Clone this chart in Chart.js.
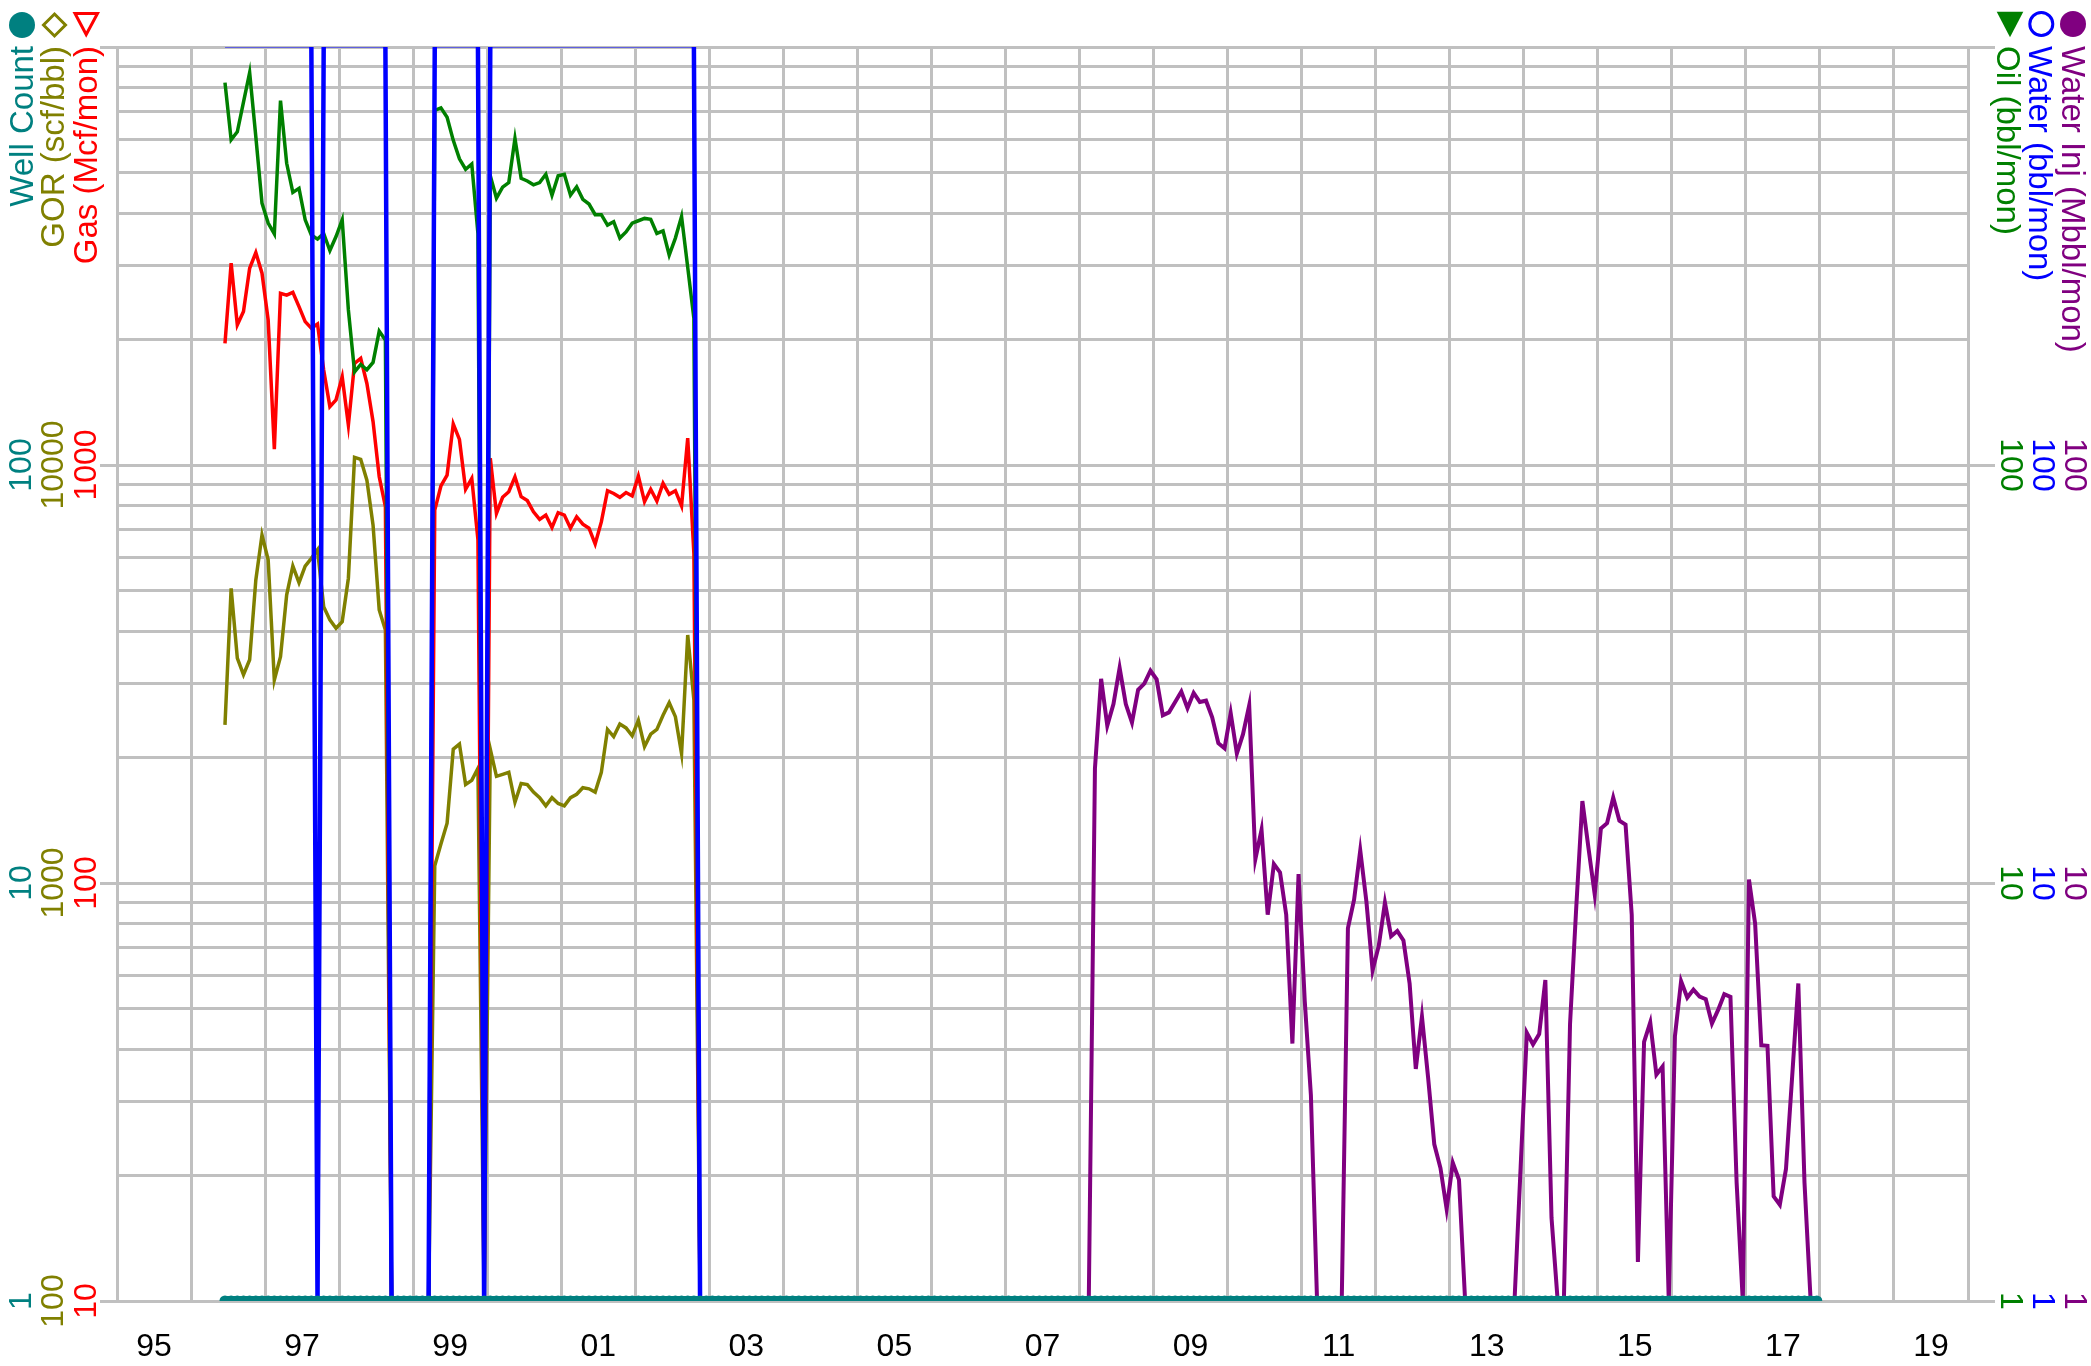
<!DOCTYPE html>
<html>
<head>
<meta charset="utf-8">
<script src="https://cdn.jsdelivr.net/npm/chart.js@4.4.1/dist/chart.umd.min.js"></script>
<style>
  html, body { margin: 0; padding: 0; background: #fff; }
  #wrap { width: 2091px; height: 1366px; position: relative; }
</style>
</head>
<body>
<div id="wrap"><canvas id="chart"></canvas></div>
<script>
// first month of each monthly series (points sit mid-month)
const prodStart = [1996, 6];
const injStart = [2008, 2];

// Well count, Jun 1996 .. Dec 2017
const wellCount = [
  1, 1, 1, 1, 1, 1, 1,
  1, 1, 1, 1, 1, 1, 1, 1, 1, 1, 1, 1,
  1, 1, 1, 1, 1, 1, 1, 1, 1, 1, 1, 1,
  1, 1, 1, 1, 1, 1, 1, 1, 1, 1, 1, 1,
  1, 1, 1, 1, 1, 1, 1, 1, 1, 1, 1, 1,
  1, 1, 1, 1, 1, 1, 1, 1, 1, 1, 1, 1,
  1, 1, 1, 1, 1, 1, 1, 1, 1, 1, 1, 1,
  1, 1, 1, 1, 1, 1, 1, 1, 1, 1, 1, 1,
  1, 1, 1, 1, 1, 1, 1, 1, 1, 1, 1, 1,
  1, 1, 1, 1, 1, 1, 1, 1, 1, 1, 1, 1,
  1, 1, 1, 1, 1, 1, 1, 1, 1, 1, 1, 1,
  1, 1, 1, 1, 1, 1, 1, 1, 1, 1, 1, 1,
  1, 1, 1, 1, 1, 1, 1, 1, 1, 1, 1, 1,
  1, 1, 1, 1, 1, 1, 1, 1, 1, 1, 1, 1,
  1, 1, 1, 1, 1, 1, 1, 1, 1, 1, 1, 1,
  1, 1, 1, 1, 1, 1, 1, 1, 1, 1, 1, 1,
  1, 1, 1, 1, 1, 1, 1, 1, 1, 1, 1, 1,
  1, 1, 1, 1, 1, 1, 1, 1, 1, 1, 1, 1,
  1, 1, 1, 1, 1, 1, 1, 1, 1, 1, 1, 1,
  1, 1, 1, 1, 1, 1, 1, 1, 1, 1, 1, 1,
  1, 1, 1, 1, 1, 1, 1, 1, 1, 1, 1, 1,
  1, 1, 1, 1, 1, 1, 1, 1, 1, 1, 1, 1
];

// Oil (bbl/mon), Jun 1996 .. Nov 2002
const oilBbl = [
  822, 600, 627, 738, 868, 610, 423,
  379, 357, 744, 527, 449, 459, 386, 355, 347, 358, 326, 352,
  386, 235, 167, 174, 169, 176, 209, 199, 0, 0, 0, 0,
  0, 0, 0, 705, 715, 679, 598, 540, 510, 525, 358, 0,
  492, 435, 462, 474, 604, 485, 478, 468, 474, 496, 442, 492,
  496, 442, 463, 432, 421, 397, 397, 375, 382, 349, 361, 379,
  384, 389, 387, 358, 363, 318, 349, 393, 297, 224, 0
];

// Gas (Mcf/mon)
const gasMcf = [
  1955, 3040, 2163, 2328, 2956, 3222, 2876,
  2223, 1091, 2575, 2550, 2588, 2393, 2203, 2124, 2174, 1687, 1379, 1432,
  1626, 1246, 1750, 1799, 1567, 1270, 937, 795, 0, 0, 0, 0,
  0, 0, 0, 780, 891, 946, 1253, 1151, 875, 929, 662, 0,
  1038, 766, 837, 863, 937, 840, 822, 773, 741, 759, 709, 769,
  759, 706, 752, 722, 706, 647, 731, 868, 855, 837, 859, 843,
  941, 817, 875, 820, 904, 851, 868, 798, 1159, 614, 0
];

// GOR (scf/bbl)
const gorScf = [
  2390, 5070, 3450, 3150, 3420, 5310, 6800,
  5930, 3060, 3480, 4890, 5730, 5230, 5730, 5980, 6270, 4580, 4260, 4070,
  4220, 5360, 10430, 10320, 9200, 7180, 4500, 4030, 0, 0, 0, 0,
  0, 0, 0, 1100, 1240, 1390, 2090, 2150, 1720, 1760, 1880, 0,
  2090, 1800, 1820, 1840, 1560, 1730, 1720, 1650, 1600, 1530, 1600, 1550,
  1530, 1600, 1630, 1690, 1680, 1650, 1840, 2330, 2240, 2400, 2350, 2250,
  2450, 2120, 2270, 2330, 2520, 2700, 2500, 2040, 3920, 2740, 0
];

// Water (bbl/mon) - sits just above the top of the scale when producing
const waterBbl = [
  1010, 1010, 1010, 1010, 1010, 1010, 1010,
  1010, 1010, 1010, 1010, 1010, 1010, 1010, 1010, 0, 1010, 1010, 1010,
  1010, 1010, 1010, 1010, 1010, 1010, 1010, 1010, 0, 0, 0, 0,
  0, 0, 0, 1010, 1010, 1010, 1010, 1010, 1010, 1010, 1010, 0,
  1010, 1010, 1010, 1010, 1010, 1010, 1010, 1010, 1010, 1010, 1010, 1010,
  1010, 1010, 1010, 1010, 1010, 1010, 1010, 1010, 1010, 1010, 1010, 1010,
  1010, 1010, 1010, 1010, 1010, 1010, 1010, 1010, 1010, 1010, 0
];

// Water injection (Mbbl/mon), Feb 2008 .. Dec 2017
const waterInjMbbl = [
  0, 18.8, 30.8, 23.8, 26.8, 32.7, 26.8, 24.2, 29.0, 30.0, 32.2,
  30.7, 25.2, 25.6, 27.1, 28.7, 26.2, 28.5, 27.1, 27.3, 24.9, 21.6, 21.0,
  25.5, 20.4, 22.7, 26.6, 11.4, 13.4, 8.4, 11.1, 10.6, 8.4, 4.13, 10.5,
  5.23, 3.11, 0, 0, 0, 0, 0, 7.79, 9.12, 11.97, 9.02, 6.18,
  7.08, 8.97, 7.46, 7.68, 7.29, 5.75, 3.59, 4.79, 3.42, 2.37, 2.08, 1.66,
  2.14, 1.95, 0, 0, 0, 0, 0, 0, 0, 0, 0, 2.1,
  4.38, 4.11, 4.35, 5.86, 1.58, 0, 0, 4.60, 8.71, 15.7, 12.1, 9.39,
  13.5, 13.9, 16.0, 14.1, 13.8, 8.39, 1.24, 4.17, 4.64, 3.48, 3.64, 0,
  4.30, 5.82, 5.32, 5.56, 5.35, 5.27, 4.61, 4.97, 5.42, 5.34, 1.92, 0,
  10.2, 7.99, 4.09, 4.08, 1.78, 1.70, 2.07, 3.44, 5.75, 1.92, 0, 0
];

// axis ticks
const yearGrid = [1995, 1996, 1997, 1998, 1999, 2000, 2001, 2002, 2003, 2004, 2005, 2006, 2007,
  2008, 2009, 2010, 2011, 2012, 2013, 2014, 2015, 2016, 2017, 2018, 2019, 2020];
const yearLabels = ['95', '97', '99', '01', '03', '05', '07', '09', '11', '13', '15', '17', '19'];
const wellTicks = [1, 10, 100];
const gorTicks = [100, 1000, 10000];
const gasTicks = [10, 100, 1000];
const oilTicks = [1, 10, 100];
const waterTicks = [1, 10, 100];
const injTicks = [1, 10, 100];

const TEAL = '#008080', OLIVE = '#808000', RED = '#ff0000';
const GREEN = '#008000', BLUE = '#0000ff', PURPLE = '#800080';
const GRID = '#c0c0c0';
const FONT = '"Liberation Sans", Arial, sans-serif';

// zero months are drawn on the bottom edge, as in the source plot
function monthly(start, values, floor) {
  return values.map((v, k) => {
    const m = start[1] - 1 + k;
    return { x: start[0] + Math.floor(m / 12) + (m % 12 + 0.5) / 12, y: v > 0 ? v : floor };
  });
}

function logGrid(min, max) {
  const t = [];
  for (let d = min; d < max; d *= 10) {
    for (let k = 1; k < 10; k++) t.push({ value: k * d });
  }
  t.push({ value: max });
  return t;
}

function isDecade(v) {
  const l = Math.log10(v);
  return Math.abs(l - Math.round(l)) < 1e-9;
}

function hiddenLog(pos, min, max) {
  return { type: 'logarithmic', position: pos, display: false, min: min, max: max };
}

const sideText = {
  id: 'sideText',
  afterDraw(chart) {
    const ctx = chart.ctx;
    const sc = chart.scales;

    // rotated tick labels
    const cols = [
      [sc.yWell, wellTicks, TEAL, 22, -1],
      [sc.yGor, gorTicks, OLIVE, 54.5, -1],
      [sc.yGas, gasTicks, RED, 87, -1],
      [sc.yOil, oilTicks, GREEN, 2010, 1],
      [sc.yWater, waterTicks, BLUE, 2041.5, 1],
      [sc.yInj, injTicks, PURPLE, 2073.5, 1]
    ];
    ctx.save();
    ctx.font = '32px ' + FONT;
    ctx.textAlign = 'center';
    ctx.textBaseline = 'middle';
    cols.forEach(([scale, ticks, color, x, dir]) => {
      ctx.fillStyle = color;
      ticks.forEach(v => {
        ctx.save();
        ctx.translate(x, scale.getPixelForValue(v));
        ctx.rotate(dir * Math.PI / 2);
        ctx.fillText(String(v), 0, 0);
        ctx.restore();
      });
    });

    // legend titles
    const top = chart.chartArea.top;
    const titles = [
      ['Well Count', TEAL, 24, -1],
      ['GOR (scf/bbl)', OLIVE, 54.5, -1],
      ['Gas (Mcf/mon)', RED, 87.5, -1],
      ['Oil (bbl/mon)', GREEN, 2006, 1],
      ['Water (bbl/mon)', BLUE, 2038, 1],
      ['Water Inj (Mbbl/mon)', PURPLE, 2071, 1]
    ];
    ctx.font = '33px ' + FONT;
    titles.forEach(([text, color, x, dir]) => {
      ctx.save();
      ctx.fillStyle = color;
      ctx.translate(x, top - 1);
      ctx.rotate(dir * Math.PI / 2);
      ctx.textAlign = dir < 0 ? 'right' : 'left';
      ctx.fillText(text, 0, 0);
      ctx.restore();
    });

    // legend markers
    ctx.lineWidth = 3;
    ctx.lineJoin = 'miter';
    ctx.fillStyle = TEAL;
    ctx.beginPath(); ctx.arc(22, 25, 13, 0, Math.PI * 2); ctx.fill();
    ctx.strokeStyle = OLIVE;
    ctx.beginPath();
    ctx.moveTo(54.5, 14); ctx.lineTo(65.5, 25); ctx.lineTo(54.5, 36); ctx.lineTo(43.5, 25);
    ctx.closePath(); ctx.stroke();
    ctx.strokeStyle = RED;
    ctx.beginPath();
    ctx.moveTo(75, 13.5); ctx.lineTo(97.5, 13.5); ctx.lineTo(86.2, 34.5);
    ctx.closePath(); ctx.stroke();
    ctx.fillStyle = PURPLE;
    ctx.beginPath(); ctx.arc(2073, 24, 13, 0, Math.PI * 2); ctx.fill();
    ctx.strokeStyle = BLUE;
    ctx.beginPath(); ctx.arc(2041.3, 24, 11.5, 0, Math.PI * 2); ctx.stroke();
    ctx.fillStyle = GREEN;
    ctx.beginPath();
    ctx.moveTo(1996.7, 11.7); ctx.lineTo(2023.3, 11.7); ctx.lineTo(2010, 37.3);
    ctx.closePath(); ctx.fill();
    ctx.restore();
  }
};

new Chart(document.getElementById('chart'), {
  type: 'line',
  data: {
    datasets: [
      { label: 'Well Count', data: monthly(prodStart, wellCount, 1), yAxisID: 'yWell',
        borderColor: TEAL, backgroundColor: TEAL, borderWidth: 10, pointRadius: 5.5,
        pointBorderWidth: 0, clip: 0, order: 0 },
      { label: 'Water', data: monthly(prodStart, waterBbl, 1), yAxisID: 'yWater',
        borderColor: BLUE, borderWidth: 4.5, pointRadius: 0, clip: 0, order: 1 },
      { label: 'Water Inj', data: monthly(injStart, waterInjMbbl, 1), yAxisID: 'yInj',
        borderColor: PURPLE, borderWidth: 4, pointRadius: 0, order: 2 },
      { label: 'Oil', data: monthly(prodStart, oilBbl, 1), yAxisID: 'yOil',
        borderColor: GREEN, borderWidth: 3.5, pointRadius: 0, order: 3 },
      { label: 'Gas', data: monthly(prodStart, gasMcf, 10), yAxisID: 'yGas',
        borderColor: RED, borderWidth: 3.5, pointRadius: 0, order: 4 },
      { label: 'GOR', data: monthly(prodStart, gorScf, 100), yAxisID: 'yGor',
        borderColor: OLIVE, borderWidth: 3.5, pointRadius: 0, order: 5 }
    ]
  },
  options: {
    responsive: true,
    maintainAspectRatio: false,
    devicePixelRatio: 1,
    animation: false,
    events: [],
    layout: { padding: { top: 47, left: 0, right: 0, bottom: 0 } },
    plugins: { legend: { display: false }, tooltip: { enabled: false } },
    elements: { line: { tension: 0 } },
    scales: {
      x: {
        type: 'linear', min: 1995, max: 2020,
        afterBuildTicks: axis => { axis.ticks = yearGrid.map(v => ({ value: v })); },
        afterFit: axis => { axis.height = 65; },
        grid: { color: GRID, lineWidth: 3, drawTicks: false },
        border: { color: GRID, width: 3 },
        ticks: {
          autoSkip: false, maxRotation: 0, minRotation: 0, labelOffset: 37, padding: 27,
          color: '#000', font: { family: FONT, size: 32 },
          callback: v => ((v - 1995) % 2 === 0 && v < 2020) ? yearLabels[(v - 1995) / 2] : ''
        }
      },
      yWell: {
        type: 'logarithmic', position: 'left', min: 1, max: 1000,
        afterBuildTicks: axis => { axis.ticks = logGrid(1, 1000); },
        afterFit: axis => { axis.width = 117; },
        grid: {
          color: GRID, lineWidth: 3, tickLength: 17, tickWidth: 3,
          tickColor: c => (c.tick && isDecade(c.tick.value)) ? GRID : 'rgba(0,0,0,0)'
        },
        border: { color: GRID, width: 3 },
        ticks: { display: false }
      },
      yGor: hiddenLog('left', 100, 100000),
      yGas: hiddenLog('left', 10, 10000),
      yOil: {
        type: 'logarithmic', position: 'right', min: 1, max: 1000,
        afterBuildTicks: axis => { axis.ticks = logGrid(1, 1000); },
        afterFit: axis => { axis.width = 123; },
        grid: {
          drawOnChartArea: false, tickLength: 27, tickWidth: 3,
          tickColor: c => (c.tick && isDecade(c.tick.value)) ? GRID : 'rgba(0,0,0,0)'
        },
        border: { color: GRID, width: 3 },
        ticks: { display: false }
      },
      yWater: hiddenLog('right', 1, 1000),
      yInj: hiddenLog('right', 1, 1000)
    }
  },
  plugins: [sideText]
});
</script>
</body>
</html>
